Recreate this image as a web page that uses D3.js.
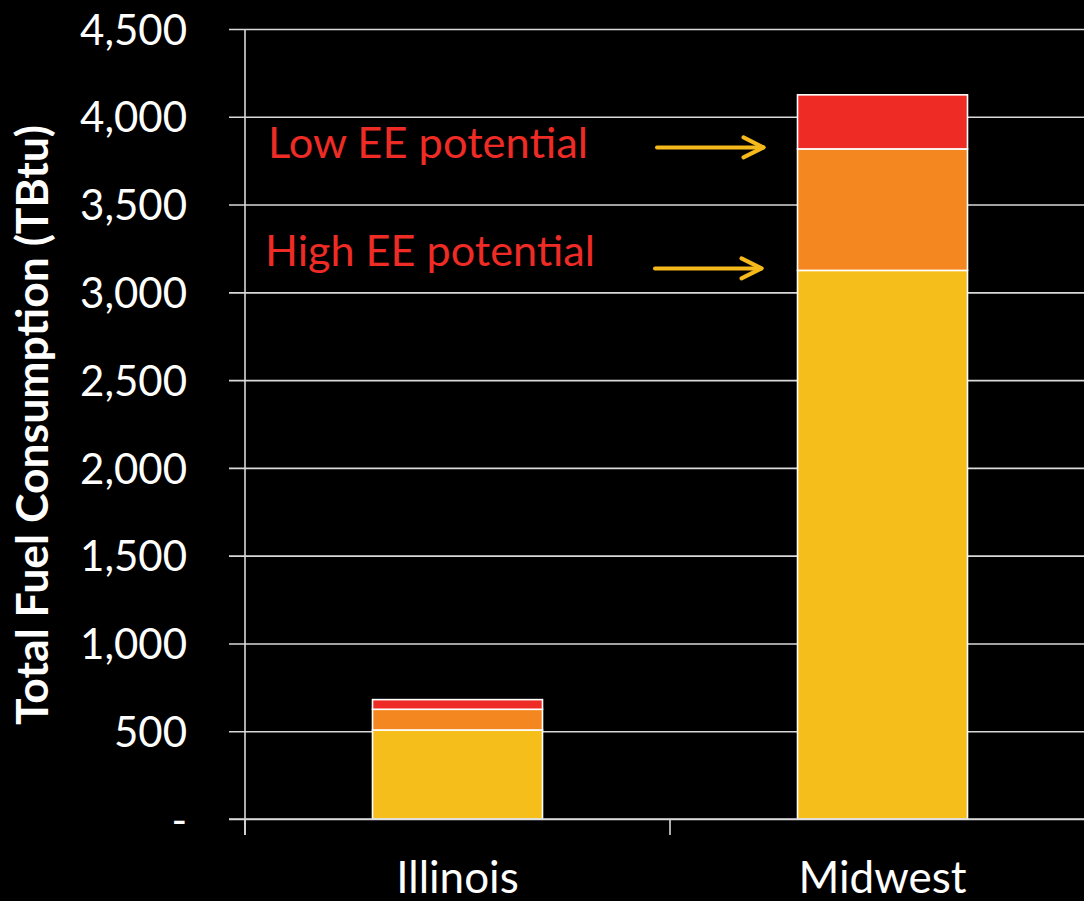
<!DOCTYPE html>
<html>
<head>
<meta charset="utf-8">
<script src="https://cdn.jsdelivr.net/npm/d3@7"></script>
<style>
  html, body { margin: 0; padding: 0; background: #000; }
  svg { display: block; }
  text { font-family: Lato, "Open Sans", sans-serif; }
</style>
</head>
<body>
<svg id="chart" width="1084" height="901"></svg>
<script>
// Fuel consumption by region, split into remaining use and efficiency potential
const categories = ["Illinois", "Midwest"];
const remainingUse = [507, 3125];   // yellow base
const highEE = [118, 692];          // orange: high efficiency potential
const lowEE = [55, 308];            // red: low efficiency potential
const yTicks = [0, 500, 1000, 1500, 2000, 2500, 3000, 3500, 4000, 4500];
const seriesKeys = ["remaining", "high", "low"];
const seriesColors = ["#f6be1a", "#f58720", "#ee2b25"];
const annotations = ["Low EE potential", "High EE potential"];

const width = 1084, height = 901;
const svg = d3.select("#chart");

const y = d3.scaleLinear().domain([0, 4500]).range([819, 29]);
const x = d3.scaleBand().domain(categories).range([245, 1095])
  .paddingInner(0.6).paddingOuter(0.3);

const rows = categories.map((c, i) => ({
  category: c, remaining: remainingUse[i], high: highEE[i], low: lowEE[i]
}));
const stacked = d3.stack().keys(seriesKeys)(rows);
const color = d3.scaleOrdinal().domain(seriesKeys).range(seriesColors);

// Horizontal gridlines with left ticks
const yAxis = d3.axisLeft(y).tickValues(yTicks)
  .tickSize(-(width - 245)).tickSizeOuter(0)
  .tickPadding(58)
  .tickFormat(d => d === 0 ? "-" : d3.format(",")(d));
const gy = svg.append("g").attr("transform", "translate(245,0)").call(yAxis);
gy.select(".domain").remove();
gy.selectAll(".tick line").attr("stroke", "#d9d9d9").attr("stroke-width", 1.6)
  .attr("x1", -16);
gy.selectAll(".tick text").attr("fill", "#fff").attr("font-size", 42)
  .attr("dy", "0.36em");

// Vertical axis line
svg.append("line").attr("x1", 245).attr("x2", 245)
  .attr("y1", y(4500)).attr("y2", 835)
  .attr("stroke", "#d9d9d9").attr("stroke-width", 1.6);

// Stacked bars
svg.append("g").selectAll("g").data(stacked).join("g")
  .attr("fill", d => color(d.key))
  .selectAll("rect").data(d => d).join("rect")
  .attr("x", d => x(d.data.category))
  .attr("width", x.bandwidth())
  .attr("y", d => y(d[1]))
  .attr("height", d => y(d[0]) - y(d[1]))
  .attr("stroke", "#fff").attr("stroke-width", 1.6);

// Category axis with boundary ticks
const xAxisG = svg.append("g");
xAxisG.append("line").attr("x1", 229).attr("x2", width)
  .attr("y1", y(0)).attr("y2", y(0))
  .attr("stroke", "#d9d9d9").attr("stroke-width", 1.6);
const step = x.step();
const boundaries = d3.range(categories.length + 1).map(i => 245 + i * step);
xAxisG.selectAll("line.bt").data(boundaries).join("line").attr("class", "bt")
  .attr("x1", d => d).attr("x2", d => d)
  .attr("y1", y(0)).attr("y2", 835)
  .attr("stroke", "#d9d9d9").attr("stroke-width", 1.6);
xAxisG.selectAll("text").data(categories).join("text")
  .attr("x", d => x(d) + x.bandwidth() / 2)
  .attr("y", 893)
  .attr("text-anchor", "middle")
  .attr("fill", "#fff").attr("font-size", 44)
  .text(d => d);

// Axis title
svg.append("text")
  .attr("transform", `translate(48,${(125 + 725) / 2}) rotate(-90)`)
  .attr("text-anchor", "middle")
  .attr("fill", "#fff").attr("font-size", 44).attr("font-weight", 700)
  .attr("textLength", 600).attr("lengthAdjust", "spacingAndGlyphs")
  .text("Total Fuel Consumption (TBtu)");

// Annotations pointing at the segment boundaries of the Midwest bar
const mw = stacked.map(s => s[1]);
const targets = [mw[1][1], mw[0][1]];
const textX = [268, 265];
const textDy = [9, -4];
const textLen = [320, 330];
const arrowStart = [657, 655];
const tipX = x("Midwest") - 34;

annotations.forEach((label, i) => {
  const ty = y(targets[i]);
  svg.append("text")
    .attr("x", textX[i]).attr("y", ty + textDy[i])
    .attr("fill", "#ee2b25").attr("font-size", 43)
    .attr("textLength", textLen[i]).attr("lengthAdjust", "spacingAndGlyphs")
    .text(label);
  const g = svg.append("g").attr("stroke", "#f5b91c").attr("stroke-width", 4)
    .attr("stroke-linecap", "round").attr("stroke-linejoin", "round").attr("fill", "none");
  const ay = ty - 1.5 - i * 0.5;
  g.append("line").attr("x1", arrowStart[i]).attr("x2", tipX - i * 2)
    .attr("y1", ay).attr("y2", ay);
  g.append("path")
    .attr("d", `M${tipX - i * 2 - 20},${ay - 10} L${tipX - i * 2},${ay} L${tipX - i * 2 - 20},${ay + 10}`);
});
</script>
</body>
</html>
